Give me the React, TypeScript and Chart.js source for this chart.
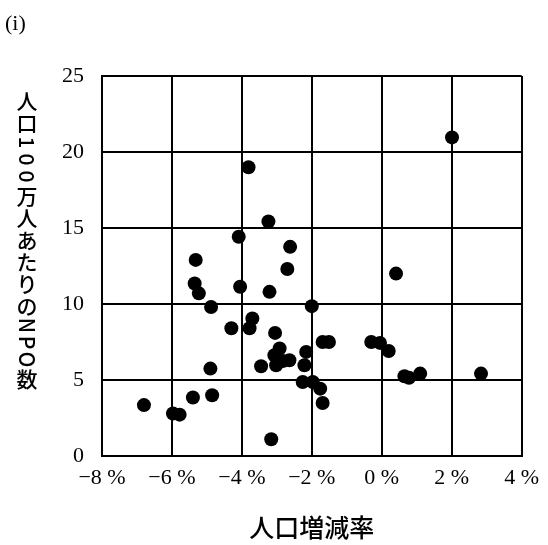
import React, { useEffect, useRef } from "react";
import { Chart, registerables } from "chart.js";
Chart.register(...registerables);

// 人口増減率 (%)
const growthRate = [
  -6.8, -5.97, -5.78, -5.4, -4.85, -4.9, -5.32, -5.35, -5.23, -4.88,
  -4.3, -4.05, -4.09, -3.81, -3.7, -3.78, -3.24, -3.21, -3.05, -2.62,
  -2.7, -2.0, -2.92, -3.07, -2.64, -2.83, -2.16, -3.45, -3.02, -2.21,
  -2.26, -1.97, -1.76, -1.69, -3.16, -1.69, -1.51, -0.3, -0.05, 0.2,
  0.41, 0.65, 0.78, 1.1, 2.84, 2.01,
];
// 人口100万人あたりのNPO数
const npoPerMillion = [
  3.35, 2.8, 2.72, 3.85, 4.0, 5.75, 12.9, 11.35, 10.7, 9.8,
  8.4, 11.13, 14.42, 19.0, 9.05, 8.4, 15.43, 10.8, 8.1, 13.76,
  12.3, 9.86, 7.07, 6.63, 6.3, 6.25, 6.85, 5.9, 5.97, 5.97,
  4.87, 4.87, 4.43, 3.49, 1.1, 7.5, 7.5, 7.5, 7.44, 6.91,
  12.0, 5.25, 5.15, 5.42, 5.42, 20.96,
];

const xTickValues = [-8, -6, -4, -2, 0, 2, 4];
const yTickValues = [0, 5, 10, 15, 20, 25];
const xTitle = "人口増減率";
const yTitle = "人口100万人あたりのNPO数";
const panelLabel = "(i)";

const CJK = "'Noto Sans CJK JP', sans-serif";
const SERIF = "'Liberation Serif', serif";

const textPlugin = {
  id: "verticalTitle",
  afterDraw(chart: any) {
    const ctx = chart.ctx;
    ctx.save();
    ctx.fillStyle = "#000";
    // panel label
    ctx.font = `22px ${SERIF}`;
    ctx.textAlign = "left";
    ctx.textBaseline = "middle";
    ctx.fillText(panelLabel, 5, 24);

    // vertical y title (tategaki): CJK upright, Latin rotated
    const x = 27;
    let y = 90;
    ctx.font = `500 21px ${CJK}`;
    ctx.textAlign = "center";
    ctx.textBaseline = "middle";
    for (const ch of Array.from(yTitle)) {
      const latin = /[\x00-\x7F]/.test(ch);
      if (latin) {
        const pitch = 17;
        ctx.save();
        ctx.translate(x, y + pitch / 2);
        ctx.rotate(Math.PI / 2);
        ctx.fillText(ch, 0, 0);
        ctx.restore();
        y += pitch;
      } else {
        const pitch = 22;
        ctx.fillText(ch, x, y + pitch / 2);
        y += pitch;
      }
    }
    ctx.restore();
  },
};

export default function App() {
  const ref = useRef<HTMLCanvasElement | null>(null);
  useEffect(() => {
    if (!ref.current) return;
    const data = growthRate.map((g, i) => ({ x: g, y: npoPerMillion[i] }));
    const chart = new Chart(ref.current, {
      type: "scatter",
      data: {
        datasets: [
          {
            data,
            backgroundColor: "#000",
            borderWidth: 0,
            pointRadius: 7,
            pointHoverRadius: 7,
          },
        ],
      },
      options: {
        animation: false,
        responsive: false,
        events: [],
        layout: { padding: { left: 0, top: 76, right: 26, bottom: 0 } },
        plugins: { legend: { display: false }, tooltip: { enabled: false } },
        scales: {
          x: {
            type: "linear",
            min: -8,
            max: 4,
            afterBuildTicks: (s: any) => {
              s.ticks = xTickValues.map((v) => ({ value: v }));
            },
            afterFit: (s: any) => {
              s.height = 89;
            },
            grid: { color: "#000", lineWidth: 2, drawTicks: false },
            border: { color: "#000", width: 2 },
            ticks: {
              color: "#000",
              padding: 9,
              maxRotation: 0,
              font: { size: 22, family: SERIF },
              callback: (v: any) => (v < 0 ? "−" + Math.abs(v) + " %" : v + " %"),
            },
            title: {
              display: true,
              text: xTitle,
              color: "#000",
              font: { size: 25, family: CJK, weight: "500" },
              padding: { top: 0, bottom: 3 },
            },
          },
          y: {
            type: "linear",
            min: 0,
            max: 25,
            afterBuildTicks: (s: any) => {
              s.ticks = yTickValues.map((v) => ({ value: v }));
            },
            afterFit: (s: any) => {
              s.width = 102;
            },
            grid: { color: "#000", lineWidth: 2, drawTicks: false },
            border: { color: "#000", width: 2 },
            ticks: {
              color: "#000",
              padding: 18,
              font: { size: 22, family: SERIF },
            },
          },
        },
      },
      plugins: [textPlugin],
    });
    return () => chart.destroy();
  }, []);
  return (
    <div style={{ position: "fixed", left: 0, top: 0, width: 548, height: 545, background: "#fff" }}>
      <canvas ref={ref} width={548} height={545} style={{ display: "block" }} />
    </div>
  );
}
